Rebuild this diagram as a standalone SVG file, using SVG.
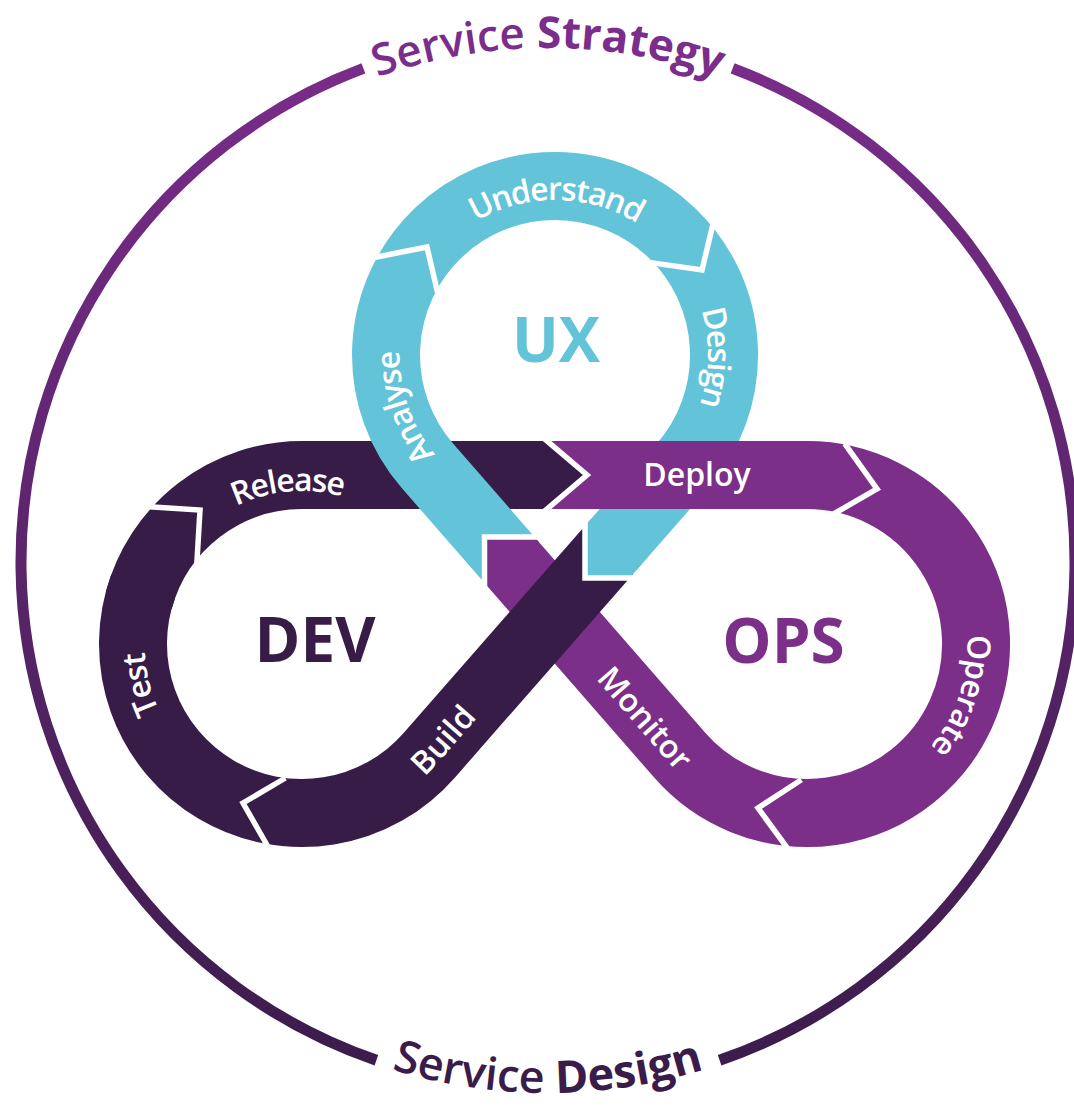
<svg xmlns="http://www.w3.org/2000/svg" width="1074" height="1108" viewBox="0 0 1074 1108">
<defs>
<linearGradient id="ringGrad" gradientUnits="userSpaceOnUse" x1="0" y1="35" x2="0" y2="1089">
<stop offset="0" stop-color="#7b2d8b"/>
<stop offset="1" stop-color="#3a1c4a"/>
</linearGradient>
<path id="pStrategy" d="M 34 562 A 514 514 0 0 1 1062 562"/>
<path id="pDesignSvc" d="M 17 562 A 531 531 0 0 0 1079 562"/>
<path id="pRelease" d="M 148.8 572.6 A 169 169 0 0 1 440.4 547.1"/>
<path id="pTest" d="M 255.4 806.5 A 169 169 0 0 1 184.6 522.4"/>
<path id="pOperate" d="M 933.4 531.8 A 169 169 0 0 1 841 809.6"/>
<path id="pAnalyse" d="M 522.8 520.9 A 169 169 0 0 1 427.5 244.1"/>
<path id="pUnderstand" d="M 409.7 268.7 A 169 169 0 0 1 702.4 272.3"/>
<path id="pDesign" d="M 642 210.1 A 169 169 0 0 1 636.9 502.8"/>
<path id="pBuild" d="M 359.8 802.8 A 169 169 0 0 0 429.2 755.3 L 607.8 551.3"/>
<path id="pMonitor" d="M 526.2 579.1 L 703.5 782.7"/>
</defs>
<style>
.band{fill:none;stroke-width:68;stroke-linecap:butt;stroke-linejoin:miter}
.cy{stroke:#62c3d9}
.dk{stroke:#361c47}
.pu{stroke:#7b2f89}
.wl{fill:none;stroke:#ffffff;stroke-width:5.5;stroke-linejoin:miter;stroke-linecap:butt}
.lbl{font-family:'Open Sans','Liberation Sans',sans-serif;font-size:32px;font-weight:600;fill:#ffffff}
.big{font-family:'Open Sans','Liberation Sans',sans-serif;font-size:62px;font-weight:700;text-anchor:middle}
.svc{font-family:'Open Sans','Liberation Sans',sans-serif;font-weight:600}
</style>
<rect width="1074" height="1108" fill="#ffffff"/>
<g id="outer-ring">
<path d="M 732.6 68.4 A 527 527 0 0 1 719.6 1060.3" fill="none" stroke="url(#ringGrad)" stroke-width="11"/>
<path d="M 376.4 1060.3 A 527 527 0 0 1 363.4 68.4" fill="none" stroke="url(#ringGrad)" stroke-width="11"/>
<text class="svc" font-size="44" fill="#7b2d8b"><textPath href="#pStrategy" startOffset="50%" text-anchor="middle">Service <tspan font-weight="700">Strategy</tspan></textPath></text>
<text class="svc" font-size="45" fill="#3a1c4b"><textPath href="#pDesignSvc" startOffset="50%" text-anchor="middle">Service <tspan font-weight="700">Design</tspan></textPath></text>
</g>
<g id="connectors">
<path id="seg-release" class="band dk" d="M 138.8 600.3 A 169 169 0 0 1 302 475 L 550 475"/>
<path id="seg-ux" class="band cy" d="M 511.7 562.5 L 427.6 466 A 169 169 0 1 1 682.2 466.3 L 611.1 547.6"/>
<path id="seg-ops" class="band pu" d="M 547 475 L 807 475 A 169 169 0 1 1 679.6 755 L 511.7 562.5"/>
<path id="seg-build" class="band dk" d="M 607.8 551.3 L 429.2 755.3 A 169 169 0 0 1 143.2 586.2"/>
<polygon points="538.6,541.7 534.5,537 484.5,537 484.5,583 487.4,586.3" fill="#7b2f89"/>
<polygon points="590.7,519.1 585,525.7 585,578 629.6,578 641.9,563.9" fill="#62c3d9"/>
<polygon points="547,441 587,475 547,509" fill="#361c47"/>
<polyline class="wl" points="539.5,537 484.5,537 484.5,587.5"/>
<polyline class="wl" points="585,521 585,578 634,578"/>
<polyline class="wl" points="544,438.4 587,475 544,511.6"/>
<polyline class="wl" points="149,506.7 200,510 196.8,564"/>
<polyline class="wl" points="285.4,778 243,803 269,848.5"/>
<polyline class="wl" points="844.7,443.7 877,489 833.5,514"/>
<polyline class="wl" points="801.4,779.8 758,808 787.4,848.2"/>
<polyline class="wl" points="373,257.8 427,247 437.9,293.9"/>
<polyline class="wl" points="713,224 702,270 649,262.4"/>
</g>
<g id="labels">
<text class="lbl" dy="16"><textPath href="#pRelease" startOffset="50%" text-anchor="middle">Release</textPath></text>
<text class="lbl" dy="11.5"><textPath href="#pTest" startOffset="50%" text-anchor="middle">Test</textPath></text>
<text class="lbl" dy="11.5"><textPath href="#pBuild" startOffset="105.5" text-anchor="middle">Build</textPath></text>
<text class="lbl" x="697" y="486" text-anchor="middle">Deploy</text>
<text class="lbl" dy="8.5"><textPath href="#pOperate" startOffset="50%" text-anchor="middle">Operate</textPath></text>
<text class="lbl" dy="13"><textPath href="#pMonitor" startOffset="183" text-anchor="middle">Monitor</textPath></text>
<text class="lbl" dy="13.5"><textPath href="#pAnalyse" startOffset="50%" text-anchor="middle">Analyse</textPath></text>
<text class="lbl" dy="14"><textPath href="#pUnderstand" startOffset="50%" text-anchor="middle">Understand</textPath></text>
<text class="lbl" dy="16"><textPath href="#pDesign" startOffset="50%" text-anchor="middle">Design</textPath></text>
</g>
<g id="node-ux"><text class="big" x="556" y="362" fill="#62c3d9">UX</text></g>
<g id="node-dev"><text class="big" x="315" y="662" fill="#361c47">DEV</text></g>
<g id="node-ops"><text class="big" x="783.5" y="663" fill="#7b2f89">OPS</text></g>
</svg>
